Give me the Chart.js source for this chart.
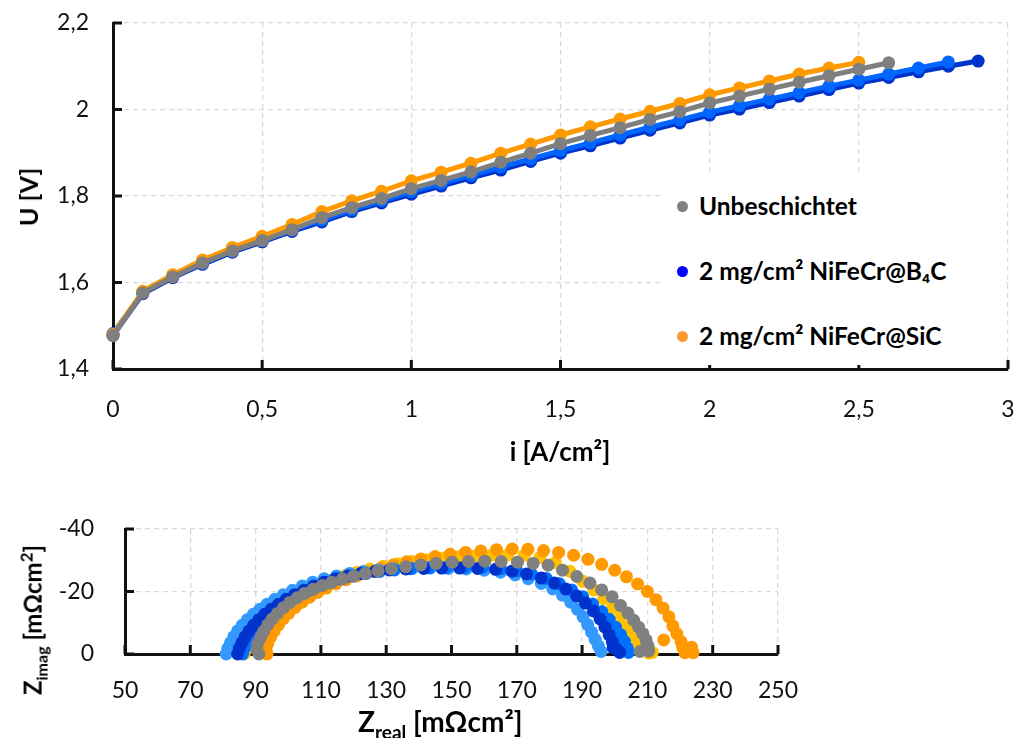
<!DOCTYPE html>
<html lang="de">
<head>
<meta charset="UTF-8">
<title>Polarisationskurve und Impedanz</title>
<script src="https://cdn.jsdelivr.net/npm/chart.js@4.4.4/dist/chart.umd.min.js"></script>
<style>
  body { margin: 0; background: #fff; font-family: Lato, sans-serif; }
  #page { position: relative; width: 1016px; height: 738px; overflow: hidden; background: #fff; }
  canvas { position: absolute; left: 0; }
  .title { position: absolute; font-weight: bold; color: #000; white-space: nowrap; }
  .rot { transform: translate(-50%, -50%) rotate(-90deg); }
  #legend { position: absolute; left: 663px; top: 175px; width: 341px; height: 190px; background: #fff; }
  .item { position: absolute; left: 14px; font-weight: bold; font-size: 24.5px; color: #000; white-space: nowrap; line-height: 28px; }
  .dot { display: inline-block; width: 11px; height: 11px; border-radius: 50%; margin-right: 11px; vertical-align: 3px; }
</style>
</head>
<body>
<div id="page">
  <canvas id="polChart" width="1016" height="440" style="top:0"></canvas>
  <canvas id="eisChart" width="1016" height="215" style="top:495px"></canvas>

  <div id="legend">
    <div class="item" style="top:17px"><span class="dot" style="background:#808080"></span>Unbeschichtet</div>
    <div class="item" style="top:82px"><span class="dot" style="background:#0000FF"></span>2 mg/cm² NiFeCr@B₄C</div>
    <div class="item" style="top:147px"><span class="dot" style="background:#FF9933"></span>2 mg/cm² NiFeCr@SiC</div>
  </div>

  <div class="title" style="left:410px; width:300px; text-align:center; top:435px; font-size:26px">i [A/cm²]</div>
  <div class="title rot" style="left:28px; top:197px; font-size:25px">U [V]</div>
  <div class="title rot" style="left:33px; top:620px; font-size:24px">Z<sub style="font-size:16px">imag</sub> [mΩcm<sup style="font-size:17px">2</sup>]</div>
  <div class="title" style="left:358px; top:704px; font-size:28px">Z<sub style="font-size:19px">real</sub> [mΩcm²]</div>
</div>

<script>
// polarisation curve
const iVals = [0, 0.1, 0.2, 0.3, 0.4, 0.5, 0.6, 0.7, 0.8, 0.9, 1.0, 1.1, 1.2, 1.3, 1.4,
               1.5, 1.6, 1.7, 1.8, 1.9, 2.0, 2.1, 2.2, 2.3, 2.4, 2.5, 2.6, 2.7, 2.8, 2.9];
const uUnbeschichtet = [1.477, 1.576, 1.613, 1.645, 1.673, 1.697, 1.722, 1.750, 1.773, 1.794,
                        1.817, 1.836, 1.856, 1.878, 1.899, 1.921, 1.940, 1.958, 1.977, 1.995,
                        2.015, 2.031, 2.047, 2.063, 2.078, 2.093, 2.108];
const uSiC = [1.480, 1.580, 1.618, 1.652, 1.681, 1.707, 1.734, 1.764, 1.789, 1.811,
              1.835, 1.855, 1.876, 1.899, 1.920, 1.941, 1.960, 1.978, 1.996, 2.014,
              2.034, 2.050, 2.066, 2.082, 2.096, 2.109];
const uB4C1 = [1.478, 1.574, 1.611, 1.642, 1.670, 1.694, 1.718, 1.740, 1.764, 1.784,
               1.804, 1.823, 1.842, 1.860, 1.880, 1.899, 1.916, 1.934, 1.952, 1.969,
               1.987, 2.001, 2.016, 2.031, 2.046, 2.061, 2.074, 2.087, 2.100, 2.112];
const uB4C2 = [1.482, 1.577, 1.614, 1.645, 1.673, 1.697, 1.721, 1.744, 1.768, 1.789,
               1.810, 1.829, 1.848, 1.867, 1.886, 1.905, 1.923, 1.941, 1.959, 1.976,
               1.994, 2.009, 2.024, 2.039, 2.054, 2.068, 2.082, 2.096, 2.110];
const iTicks = [0, 0.5, 1, 1.5, 2, 2.5, 3];
const uTicks = [1.4, 1.6, 1.8, 2.0, 2.2];

// impedance spectra [Zreal, Zimag]
const eisYellow = [[86.5,0],[86.8,-1.8],[87.6,-3.7],[88.6,-5.7],[89.9,-7.7],[91.4,-9.6],[93.1,-11.5],[95,-13.3],
  [97.1,-15],[99.4,-16.7],[101.9,-18.3],[104.6,-19.8],[107.5,-21.2],[110.6,-22.6],[113.9,-23.9],[117.4,-25.1],
  [121.1,-26.2],[125,-27.2],[129.1,-28.1],[133.4,-28.9],[137.9,-29.6],[142.5,-30.2],[147.3,-30.7],[152.2,-31.1],
  [157.2,-31.4],[162.2,-31.6],[167.2,-31.7],[172.2,-31.6],[177.1,-30.9],[181.8,-29.3],[186.2,-26.5],[190.2,-23.3],
  [193.6,-20.5],[196.6,-17.7],[199.3,-14.7],[201.7,-11.6],[203.7,-8.6],[205.5,-5.8],[207.2,-3.4],[208.8,-1.5],
  [210.5,-0.3],[211.5,-0.5]];
const eisOrange = [[93.5,0],[93.2,-1.5],[93.7,-3.4],[94.6,-5.4],[95.7,-7.4],[97,-9.4],[98.5,-11.3],[100.2,-13.1],
  [102.1,-14.9],[104.2,-16.6],[106.5,-18.2],[109,-19.7],[111.7,-21.1],[114.6,-22.5],[117.7,-23.8],[121,-25],
  [124.5,-26.2],[128.3,-27.4],[132.2,-28.5],[136.3,-29.5],[140.6,-30.4],[145,-31.2],[149.6,-31.9],[154.3,-32.5],
  [159,-33],[163.8,-33.4],[168.6,-33.6],[173.4,-33.5],[178.2,-33.1],[182.8,-32.5],[187.4,-31.6],[191.8,-30.3],
  [196,-28.7],[200,-26.8],[203.6,-24.7],[207,-22.4],[210,-20],[212.6,-17.4],[214.8,-14.7],[216.6,-11.9],
  [217.8,-9],[215,-4.5],[219,-6.5],[220.3,-4],[220.8,-2.2],[223.5,-2.2],[221.5,-0.4],[224,-0.4]];
const eisLightBlue = [[81,0],[81.5,-1.8],[82.3,-3.6],[83.3,-5.5],[84.5,-7.4],[85.9,-9.2],[87.5,-11],[89.3,-12.7],
  [91.3,-14.3],[93.5,-15.9],[95.9,-17.5],[98.5,-19],[101.3,-20.4],[104.3,-21.8],[107.5,-23],[111,-24.1],
  [114.8,-25],[118.8,-25.8],[123,-26.4],[127.5,-26.9],[132.5,-27.2],[138,-27.4],[143.5,-27.5],[149,-27.4],
  [154.5,-27.2],[160,-26.8],[165,-26.2],[169.5,-25.3],[173.5,-24.1],[177.5,-22.6],[181,-20.8],[184,-18.8],
  [186.5,-16.6],[188.6,-14.3],[190.3,-11.9],[191.7,-9.4],[192.9,-7],[194,-4.7],[195,-2.6],[195.8,-0.8]];
const eisMidBlue = [[86,0],[86.5,-1.8],[87.3,-3.6],[88.3,-5.5],[89.5,-7.4],[90.9,-9.2],[92.5,-11],[94.3,-12.7],
  [96.3,-14.3],[98.5,-15.9],[100.9,-17.5],[103.5,-19],[106.3,-20.4],[109.3,-21.8],[112.5,-23],[116,-24.1],
  [119.8,-25],[123.8,-25.8],[128,-26.4],[132.5,-26.9],[137.5,-27.3],[143,-27.6],[148.5,-27.8],[154,-27.8],
  [159.5,-27.7],[165,-27.3],[170,-26.6],[174.5,-25.6],[179,-24.2],[183,-22.5],[186.8,-20.5],[190.2,-18.3],
  [193.2,-16],[196,-13.6],[198.3,-11.1],[200.2,-8.6],[201.8,-6.2],[203,-4],[203.8,-2],[204.2,-0.5]];
const eisDarkBlue = [[84.5,0],[85,-1.8],[85.8,-3.6],[86.8,-5.5],[88,-7.4],[89.4,-9.2],[91,-11],[92.8,-12.7],
  [94.8,-14.3],[97,-15.9],[99.4,-17.5],[102,-19],[104.8,-20.4],[107.8,-21.8],[111,-23],[114.5,-24.1],
  [118.3,-25],[122.3,-25.8],[126.5,-26.4],[131,-26.9],[136,-27.2],[141.5,-27.4],[147,-27.5],[152.5,-27.5],
  [158,-27.4],[163.5,-27.1],[168.5,-26.5],[173,-25.6],[177.5,-24.3],[181.5,-22.7],[185,-20.8],[188.3,-18.6],
  [191,-16.3],[193.5,-13.8],[195.5,-11.2],[197,-8.6],[198.3,-6.1],[199.3,-3.8],[200.3,-1.8],[201.5,-0.5],[199.5,-2]];
const eisGray = [[91,0],[90.3,-1.5],[90.6,-3.2],[91.5,-5.2],[92.5,-7.3],[93.7,-9.3],[95.1,-11.2],[96.7,-13],
  [98.5,-14.8],[100.5,-16.5],[102.7,-18],[105,-19.4],[107.6,-20.7],[110.4,-21.9],[113.4,-23],[116.6,-24],
  [120,-24.9],[123.6,-25.8],[127.5,-26.6],[131.6,-27.3],[136,-27.9],[140.6,-28.5],[145.3,-29],[150.2,-29.4],
  [155.2,-29.6],[160.2,-29.7],[165.2,-29.6],[170.2,-29.4],[175,-29],[179.6,-28.4],[184,-26.8],[188.4,-24.8],
  [192.4,-22.7],[196,-20.5],[199.2,-18.3],[201.8,-15.5],[204,-13.1],[205.8,-10.8],[207.3,-8.6],[208.6,-6.5],
  [209.6,-4.5],[210.2,-2.6],[210.4,-1],[209,-1.5],[207.7,-0.8]];
const zRealTicks = [50, 70, 90, 110, 130, 150, 170, 190, 210, 230, 250];
const zImagTicks = [-40, -20, 0];

Chart.defaults.font.family = 'Lato, sans-serif';
Chart.defaults.color = '#111';

const comma = v => String(v).replace('.', ',');
const toXY = (arr) => arr.map((u, k) => ({ x: iVals[k], y: u }));
const pairs = (arr) => arr.map(p => ({ x: p[0], y: p[1] }));

// short tick marks pointing into the plot
const innerTicks = {
  id: 'innerTicks',
  beforeDatasetsDraw(chart, args, opts) {
    const { ctx, chartArea: a, scales } = chart;
    ctx.save();
    ctx.strokeStyle = '#111';
    ctx.lineWidth = 3;
    ctx.beginPath();
    scales.x.ticks.forEach(t => {
      const p = scales.x.getPixelForValue(t.value);
      ctx.moveTo(p, a.bottom); ctx.lineTo(p, a.bottom - opts.len);
    });
    scales.y.ticks.forEach(t => {
      const p = scales.y.getPixelForValue(t.value);
      ctx.moveTo(a.left, p); ctx.lineTo(a.left + opts.len, p);
    });
    ctx.stroke();
    ctx.restore();
  }
};

// the gap to the labels comes from an invisible tick, so the plot area is not shrunk
function axis(ticks, min, max, gap, extra) {
  return Object.assign({
    type: 'linear', min: min, max: max,
    afterBuildTicks: s => { s.ticks = ticks.map(v => ({ value: v })); },
    grid: { color: '#D9D9D9', lineWidth: 1.3, drawTicks: true, tickLength: gap, tickColor: 'rgba(0,0,0,0)' },
    border: { color: '#111', width: 3, dash: [5, 4] },
    ticks: { callback: comma, font: { size: 23 }, padding: 0 }
  }, extra);
}

function lineSet(label, arr, color) {
  return {
    label: label, data: toXY(arr), showLine: true,
    borderColor: color, backgroundColor: color, borderWidth: 5,
    pointRadius: 6.5, pointBorderWidth: 0, pointBackgroundColor: color,
    clip: false
  };
}

new Chart(document.getElementById('polChart'), {
  type: 'scatter',
  data: {
    datasets: [
      lineSet('Unbeschichtet', uUnbeschichtet, '#7F7F7F'),
      lineSet('2 mg/cm² NiFeCr@SiC', uSiC, '#FF9900'),
      lineSet('2 mg/cm² NiFeCr@B4C (2)', uB4C2, '#0066FF'),
      lineSet('2 mg/cm² NiFeCr@B4C', uB4C1, '#0033CC')
    ]
  },
  options: {
    responsive: false, animation: false, devicePixelRatio: 1,
    layout: { padding: { top: 23, right: 8, left: 0, bottom: 0 } },
    plugins: { legend: { display: false }, tooltip: { enabled: false }, innerTicks: { len: 9 } },
    scales: {
      x: axis(iTicks, 0, 3, 27, { afterFit: s => { s.height = 71; } }),
      y: axis(uTicks, 1.4, 2.2, 24, { afterFit: s => { s.width = 113; } })
    }
  },
  plugins: [innerTicks]
});

function dotSet(label, arr, color) {
  return {
    label: label, data: pairs(arr),
    backgroundColor: color, borderColor: color,
    pointRadius: 6.5, pointBorderWidth: 0, clip: false
  };
}

new Chart(document.getElementById('eisChart'), {
  type: 'scatter',
  data: {
    datasets: [
      dotSet('Unbeschichtet', eisGray, '#808080'),
      dotSet('B4C a', eisDarkBlue, '#0033CC'),
      dotSet('B4C b', eisMidBlue, '#0070FF'),
      dotSet('B4C c', eisLightBlue, '#3399FF'),
      dotSet('SiC a', eisOrange, '#FF9900'),
      dotSet('SiC b', eisYellow, '#FFC000')
    ]
  },
  options: {
    responsive: false, animation: false, devicePixelRatio: 1,
    layout: { padding: { top: 34, right: 238, left: 0, bottom: 0 } },
    plugins: { legend: { display: false }, tooltip: { enabled: false }, innerTicks: { len: 9 } },
    scales: {
      x: axis(zRealTicks, 50, 250, 23, { afterFit: s => { s.height = 56; } }),
      y: axis(zImagTicks, -40, 0, 31, { reverse: true, afterFit: s => { s.width = 125; } })
    }
  },
  plugins: [innerTicks]
});
</script>
</body>
</html>
